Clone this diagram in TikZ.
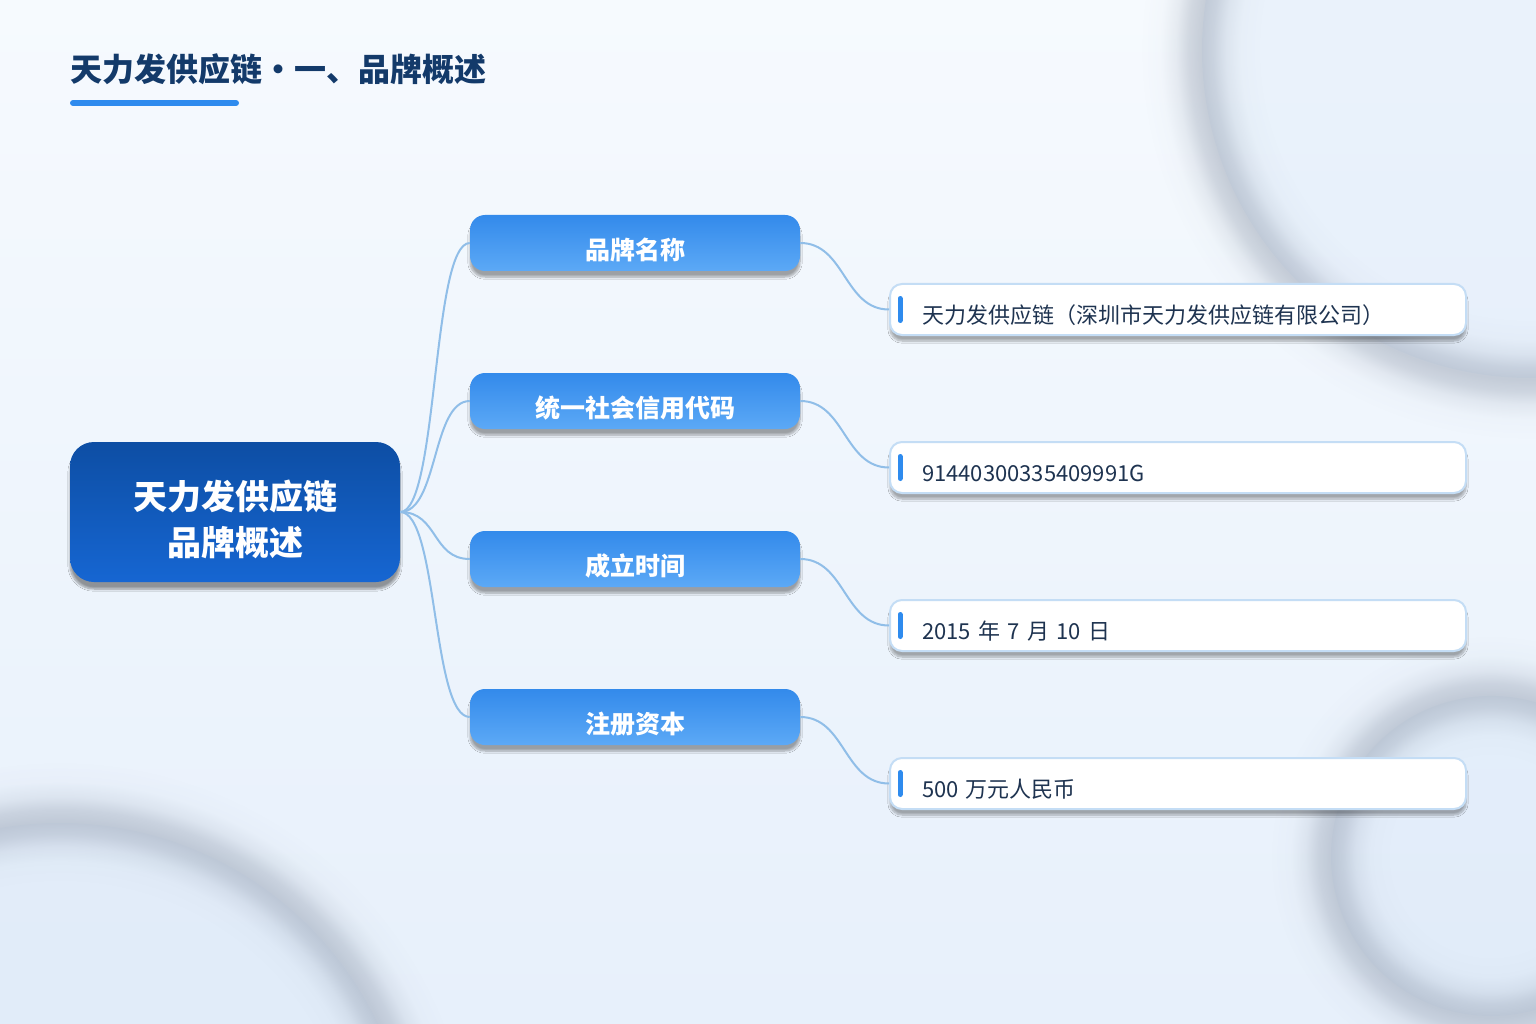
\documentclass[tikz,border=0pt]{standalone}
\usepackage{fontspec}
\setmainfont{Noto Sans CJK SC}
\usetikzlibrary{calc,shadows.blur,fadings}
\definecolor{bgtop}{HTML}{F6FAFE}
\definecolor{bgbot}{HTML}{E7F0FB}
\definecolor{titlec}{HTML}{133A6A}
\definecolor{barc}{HTML}{2E8BEE}
\definecolor{roottop}{HTML}{0D4EA4}
\definecolor{rootbot}{HTML}{1666D2}
\definecolor{midtop}{HTML}{338AEB}
\definecolor{midbot}{HTML}{5CA9F6}
\definecolor{linec}{HTML}{90BEE8}
\definecolor{boxline}{HTML}{C4DDF5}
\definecolor{txtc}{HTML}{1E3350}
\definecolor{ringc}{HTML}{8E99AB}
\definecolor{discc}{HTML}{D6E5F8}
\pgfdeclareradialshading{ringAsh}{\pgfpointorigin}{color(0bp)=(pgftransparent!100); color(16.83bp)=(pgftransparent!100); color(18.09bp)=(pgftransparent!97); color(19.03bp)=(pgftransparent!85); color(19.85bp)=(pgftransparent!65); color(20.60bp)=(pgftransparent!55); color(21.36bp)=(pgftransparent!65); color(22.17bp)=(pgftransparent!85); color(23.12bp)=(pgftransparent!97); color(24.37bp)=(pgftransparent!100); color(50bp)=(pgftransparent!100)}
\pgfdeclareradialshading{ringBsh}{\pgfpointorigin}{color(0bp)=(pgftransparent!100); color(17.30bp)=(pgftransparent!100); color(18.48bp)=(pgftransparent!97); color(19.37bp)=(pgftransparent!85); color(20.14bp)=(pgftransparent!65); color(20.85bp)=(pgftransparent!55); color(21.56bp)=(pgftransparent!65); color(22.33bp)=(pgftransparent!85); color(23.22bp)=(pgftransparent!97); color(24.41bp)=(pgftransparent!100); color(50bp)=(pgftransparent!100)}
\pgfdeclareradialshading{ringCsh}{\pgfpointorigin}{color(0bp)=(pgftransparent!100); color(10.87bp)=(pgftransparent!100); color(13.04bp)=(pgftransparent!97); color(14.67bp)=(pgftransparent!85); color(16.09bp)=(pgftransparent!65); color(17.39bp)=(pgftransparent!55); color(18.70bp)=(pgftransparent!65); color(20.11bp)=(pgftransparent!85); color(21.74bp)=(pgftransparent!97); color(23.91bp)=(pgftransparent!100); color(50bp)=(pgftransparent!100)}
\pgfdeclarefading{ringA}{\pgfuseshading{ringAsh}}
\pgfdeclarefading{ringB}{\pgfuseshading{ringBsh}}
\pgfdeclarefading{ringC}{\pgfuseshading{ringCsh}}
\tikzset{
  rootbox/.style={rectangle, rounded corners=24pt, minimum width=330pt, minimum height=140pt,
    top color=roottop, bottom color=rootbot, draw=none, text=white, align=center,
    font=\fontsize{34pt}{46pt}\selectfont\bfseries,
    blur shadow={shadow xshift=0pt, shadow yshift=-7pt, shadow blur steps=8, shadow opacity=40}},
  midbox/.style={rectangle, rounded corners=15pt, minimum width=330pt, minimum height=56pt,
    top color=midtop, bottom color=midbot, draw=none, text=white,
    font=\fontsize{25pt}{30pt}\selectfont\bfseries,
    blur shadow={shadow xshift=0pt, shadow yshift=-6pt, shadow blur steps=8, shadow opacity=35}},
  infobox/.style={rectangle, rounded corners=12pt, minimum height=51pt, text width=512pt,
    inner xsep=32pt, align=left, fill=white, draw=boxline, line width=2pt, text=txtc,
    font=\fontsize{22pt}{26pt}\selectfont,
    blur shadow={shadow xshift=0pt, shadow yshift=-6pt, shadow blur steps=8, shadow opacity=32}},
  link/.style={draw=linec, line width=2pt},
  accent/.style={draw=barc, line width=6pt, line cap=round},
}
\newcommand{\dn}[2]{\raisebox{-#1}[\height][\depth]{#2}}
\begin{document}
\begin{tikzpicture}[x=1pt,y=-1pt]
% background
\shade[top color=bgtop, bottom color=bgbot] (0,0) rectangle (1536,1024);
\useasboundingbox (0,0) rectangle (1536,1024);
% soft ring shadows
\begin{scope}
\clip (0,0) rectangle (1536,1024);
\foreach \cx/\cy/\r/\f in {1530/50/328/ringA, 60/1175/352/ringB, 1491/856/160/ringC}{
  \fill[discc, opacity=0.35] (\cx,\cy) circle[radius=\r];
  \fill[ringc, path fading=\f] (\cx,\cy) circle[radius=\r+70];
}
\end{scope}
% title
\node[anchor=base west, inner sep=0pt, text=titlec, font=\fontsize{32pt}{36pt}\selectfont\bfseries] (title) at (70,82) {天力发供应链・一、品牌概述};
\coordinate (ulA) at (73,103);
\coordinate (ulB) at (236,103);
\draw[accent] (ulA) -- (ulB);
% nodes
\node[rootbox] (root) at (235,512) {\dn{11pt}{\begin{tabular}{@{}c@{}}天力发供应链\\品牌概述\end{tabular}}};
\node[midbox] (m1) at (635,243) {\dn{7pt}{品牌名称}};
\node[midbox] (m2) at (635,401) {\dn{7pt}{统一社会信用代码}};
\node[midbox] (m3) at (635,559) {\dn{7pt}{成立时间}};
\node[midbox] (m4) at (635,717) {\dn{7pt}{注册资本}};
\node[infobox] (r1) at (1178,309.5) {\dn{6pt}{天力发供应链（深圳市天力发供应链有限公司）}};
\node[infobox] (r2) at (1178,467.5) {\dn{6pt}{91440300335409991G}};
\node[infobox] (r3) at (1178,625.5) {\dn{6pt}{2015 年 7 月 10 日}};
\node[infobox] (r4) at (1178,783.5) {\dn{6pt}{500 万元人民币}};
% connectors
\foreach \m in {m1,m2,m3,m4}{
  \draw[link] (root.east) .. controls +(38,0) and +(-38,0) .. (\m.west);
}
\foreach \m/\r in {m1/r1,m2/r2,m3/r3,m4/r4}{
  \draw[link] (\m.east) .. controls +(45,0) and +(-45,0) .. (\r.west);
}
% accent bars
\foreach \r in {r1,r2,r3,r4}{
  \draw[accent, line width=5pt] ($(\r.west)+(11,-11)$) -- ($(\r.west)+(11,11)$);
}
\end{tikzpicture}
\end{document}
